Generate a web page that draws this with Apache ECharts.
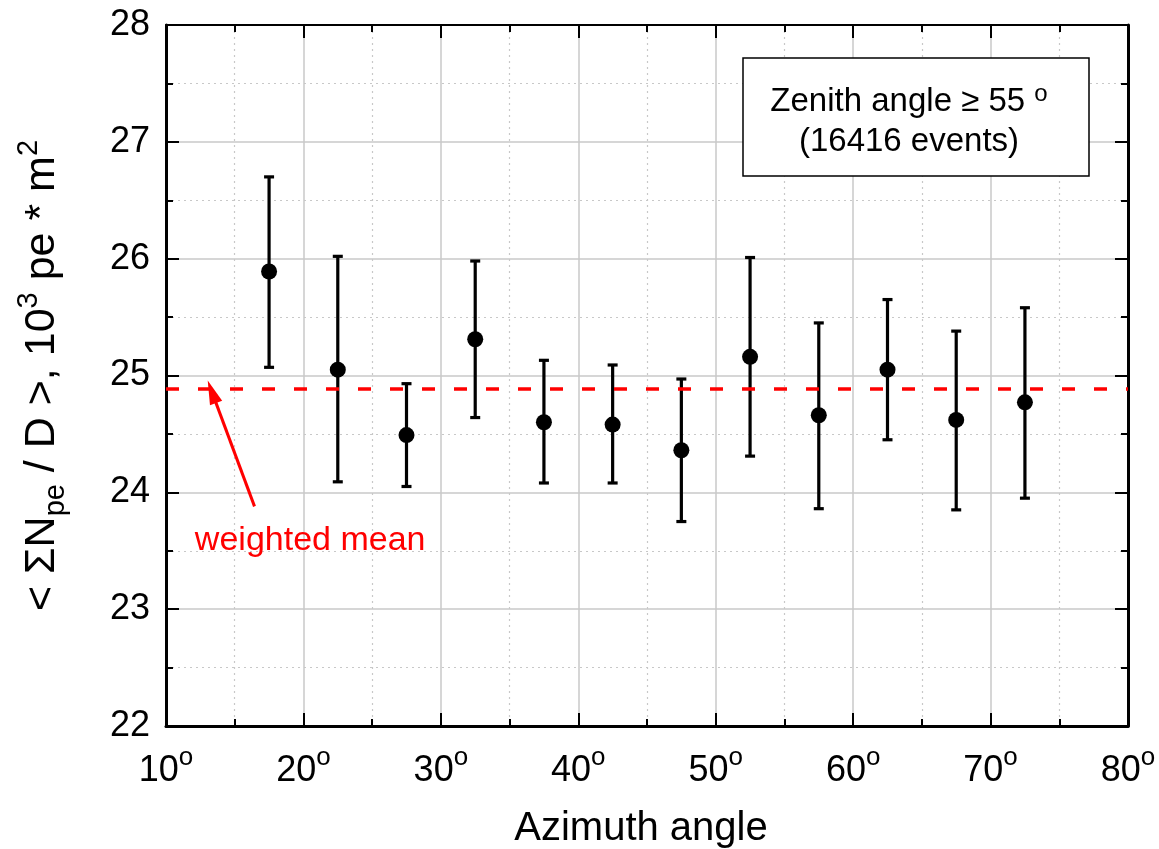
<!DOCTYPE html>
<html><head><meta charset="utf-8">
<script src="https://cdn.jsdelivr.net/npm/echarts@6.0.0/dist/echarts.min.js"></script>
<style>html,body{margin:0;padding:0;background:#fff}#c{width:1159px;height:849px}</style>
</head><body><div id="c"></div>
<script>
// ---- data ----
const azimuth  = [17.5, 22.5, 27.5, 32.5, 37.5, 42.5, 47.5, 52.5, 57.5, 62.5, 67.5, 72.5];
const meanVal  = [25.89, 25.05, 24.49, 25.31, 24.60, 24.58, 24.36, 25.16, 24.66, 25.05, 24.62, 24.77];
const errLow   = [25.07, 24.09, 24.05, 24.64, 24.08, 24.08, 23.75, 24.31, 23.86, 24.45, 23.85, 23.95];
const errHigh  = [26.70, 26.02, 24.93, 25.98, 25.13, 25.09, 24.97, 26.01, 25.45, 25.65, 25.38, 25.58];
const weightedMean = 24.885;
const xRange = [10, 80];
const yRange = [22, 28];
const arrowFrom = [16.44, 23.88];
const arrowTo   = [13.34, 24.86];
const noteAt    = [20.49, 23.59];
const noteText  = 'weighted mean';
const boxLines  = ['Zenith angle \u2265 55 ', '(16416 events)'];

const FF = '"Liberation Sans", Arial, Helvetica, sans-serif';
const chart = echarts.init(document.getElementById('c'), null, {renderer: 'canvas'});

const tickStyle = {color: '#000', width: 2};
const baseAxis = {
  type: 'value',
  axisLine: {show: true, onZero: false, lineStyle: {color: '#000', width: 3}},
  axisTick: {show: true, inside: true, length: 13, lineStyle: tickStyle},
  minorTick: {show: true, splitNumber: 2, length: 7, lineStyle: tickStyle},
};

const option = {
  animation: false,
  backgroundColor: '#fff',
  grid: {left: 166, right: 31, top: 25, bottom: 123, containLabel: false, outerBoundsMode: 'none'},
  xAxis: [
    Object.assign({}, baseAxis, {
      min: xRange[0], max: xRange[1], interval: 10, position: 'bottom',
      splitLine: {show: true, lineStyle: {color: '#c8c8c8', width: 1.5}},
      minorSplitLine: {show: true, lineStyle: {color: '#c8c8c8', width: 1.2, type: [2, 4]}},
      axisLabel: {
        margin: 19, color: '#000',
        formatter: v => '{n|' + v + '}{s|o}',
        rich: {
          n: {fontSize: 36, fontFamily: FF, color: '#000', lineHeight: 52, verticalAlign: 'middle'},
          s: {fontSize: 26, fontFamily: FF, color: '#000', lineHeight: 24, verticalAlign: 'top'}
        }
      },
      name: 'Azimuth angle', nameLocation: 'middle', nameGap: 83,
      nameTextStyle: {fontSize: 40, fontFamily: FF, color: '#000', padding: [0, 12, 0, 0]}
    }),
    Object.assign({}, baseAxis, {
      min: xRange[0], max: xRange[1], interval: 10, position: 'top',
      axisLine: {show: true, onZero: false, lineStyle: {color: '#000', width: 2}},
      axisLabel: {show: false}, splitLine: {show: false}
    })
  ],
  yAxis: [
    Object.assign({}, baseAxis, {
      min: yRange[0], max: yRange[1], interval: 1, position: 'left',
      splitLine: {show: true, lineStyle: {color: '#c8c8c8', width: 1.5}},
      minorSplitLine: {show: true, lineStyle: {color: '#c8c8c8', width: 1.2, type: [2, 4]}},
      axisLabel: {margin: 16, color: '#000', fontSize: 36, fontFamily: FF},
      name: '{t|< \u03A3N}{sub|pe}{t| / D >, 10}{sup|3}{t| pe * m}{sup|2}',
      nameLocation: 'middle', nameRotate: 90, nameGap: 96,
      nameTextStyle: {
        color: '#000',
        rich: {
          t: {fontSize: 43, fontFamily: FF, color: '#000', lineHeight: 56, verticalAlign: 'middle'},
          sub: {fontSize: 29, fontFamily: FF, color: '#000', lineHeight: 28, verticalAlign: 'bottom'},
          sup: {fontSize: 29, fontFamily: FF, color: '#000', lineHeight: 28, verticalAlign: 'top'}
        }
      }
    }),
    Object.assign({}, baseAxis, {
      min: yRange[0], max: yRange[1], interval: 1, position: 'right',
      axisLabel: {show: false}, splitLine: {show: false}
    })
  ],
  series: [
    {
      type: 'custom',
      xAxisIndex: 0, yAxisIndex: 0,
      silent: true, z: 3,
      encode: {x: 0, y: [1, 2]},
      data: azimuth.map((x, i) => [x, errLow[i], errHigh[i]]),
      renderItem: function (params, api) {
        const x = api.value(0);
        const pLo = api.coord([x, api.value(1)]);
        const pHi = api.coord([x, api.value(2)]);
        const cap = 5;
        const st = {stroke: '#000', lineWidth: 3.2, fill: null};
        return {type: 'group', children: [
          {type: 'line', shape: {x1: pLo[0], y1: pLo[1], x2: pHi[0], y2: pHi[1]}, style: st},
          {type: 'line', shape: {x1: pLo[0] - cap, y1: pLo[1], x2: pLo[0] + cap, y2: pLo[1]}, style: st},
          {type: 'line', shape: {x1: pHi[0] - cap, y1: pHi[1], x2: pHi[0] + cap, y2: pHi[1]}, style: st}
        ]};
      }
    },
    {
      type: 'scatter',
      xAxisIndex: 0, yAxisIndex: 0,
      silent: true, z: 4,
      symbol: 'circle', symbolSize: 16,
      itemStyle: {color: '#000', opacity: 1},
      data: azimuth.map((x, i) => [x, meanVal[i]]),
      markLine: {
        silent: true, animation: false,
        symbol: ['none', 'none'],
        label: {show: false},
        lineStyle: {color: '#ff0000', width: 3.5, type: [13, 19], opacity: 1},
        emphasis: {disabled: true},
        data: [{yAxis: weightedMean}]
      }
    },
    {
      type: 'scatter',
      xAxisIndex: 0, yAxisIndex: 0,
      silent: true, z: 5,
      symbolSize: 0,
      itemStyle: {opacity: 1},
      data: [noteAt],
      label: {
        show: true, position: 'inside', formatter: noteText,
        color: '#ff0000', opacity: 1, fontSize: 34, fontFamily: FF
      },
      markLine: {
        silent: true, animation: false,
        symbol: ['none', 'triangle'],
        symbolSize: [13, 24],
        label: {show: false},
        lineStyle: {color: '#ff0000', width: 3, type: 'solid', opacity: 1},
        emphasis: {disabled: true},
        data: [[{coord: arrowFrom}, {coord: arrowTo}]]
      }
    }
  ],
  graphic: [
    {
      type: 'rect', z: 100,
      shape: {x: 743, y: 58, width: 346, height: 118},
      style: {fill: '#fff', stroke: '#000', lineWidth: 1.5}
    },
    {
      type: 'text', z: 101,
      x: 909, y: 122,
      style: {
        text: '{a|' + boxLines[0] + '}{s|o}\n{a|' + boxLines[1] + '}',
        align: 'center', verticalAlign: 'middle',
        rich: {
          a: {fontSize: 33, fontFamily: FF, fill: '#000', color: '#000', lineHeight: 40},
          s: {fontSize: 24, fontFamily: FF, fill: '#000', color: '#000', lineHeight: 20, verticalAlign: 'top'}
        }
      }
    }
  ]
};
chart.setOption(option);
</script>
</body></html>
